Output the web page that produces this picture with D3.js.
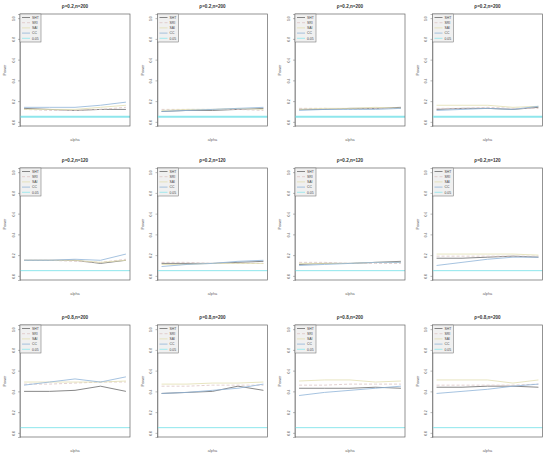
<!DOCTYPE html>
<html>
<head>
<meta charset="utf-8">
<script src="https://cdn.jsdelivr.net/npm/d3@7"></script>
<style>
  body { margin: 0; background: #fff; }
  text { font-family: "Liberation Sans", Arial, sans-serif; }
</style>
</head>
<body>
<script>
// alpha steps along the x axis (no tick labels shown in the original)
const alphas = [1, 2, 3, 4, 5];
const methods = ["SHT", "SRI", "SAI", "CC"];
const legendLabels = ["SHT", "SRI", "SAI", "CC", "0.05"];
const nominal = 0.05;
const yTicks = [0, 0.2, 0.4, 0.6, 0.8, 1.0];

const titles = [
  "\u03c1=0.2,n=200", "\u03c1=0.2,n=200", "\u03c1=0.2,n=200", "\u03c1=0.2,n=200",
  "\u03c1=0.2,n=120", "\u03c1=0.2,n=120", "\u03c1=0.2,n=120", "\u03c1=0.2,n=120",
  "\u03c1=0.8,n=200", "\u03c1=0.8,n=200", "\u03c1=0.8,n=200", "\u03c1=0.8,n=200"
];

// power per panel, one array per method (SHT, SRI, SAI, CC)
const shtPower = [
  [0.13, 0.12, 0.11, 0.12, 0.12], [0.10, 0.11, 0.11, 0.12, 0.13], [0.12, 0.12, 0.13, 0.13, 0.14], [0.12, 0.13, 0.13, 0.12, 0.14],
  [0.15, 0.15, 0.15, 0.12, 0.15], [0.12, 0.12, 0.12, 0.13, 0.14], [0.11, 0.12, 0.12, 0.13, 0.14], [0.17, 0.17, 0.18, 0.19, 0.18],
  [0.40, 0.40, 0.41, 0.45, 0.40], [0.38, 0.39, 0.40, 0.45, 0.41], [0.43, 0.43, 0.43, 0.44, 0.43], [0.44, 0.44, 0.45, 0.45, 0.44]
];
const sriPower = [
  [0.12, 0.11, 0.11, 0.12, 0.14], [0.12, 0.12, 0.12, 0.12, 0.11], [0.13, 0.13, 0.12, 0.13, 0.13], [0.13, 0.13, 0.14, 0.13, 0.13],
  [0.15, 0.15, 0.14, 0.13, 0.16], [0.13, 0.13, 0.12, 0.12, 0.12], [0.13, 0.13, 0.12, 0.12, 0.12], [0.19, 0.19, 0.19, 0.19, 0.19],
  [0.47, 0.47, 0.48, 0.49, 0.49], [0.45, 0.45, 0.46, 0.46, 0.46], [0.46, 0.46, 0.47, 0.47, 0.47], [0.46, 0.46, 0.46, 0.46, 0.47]
];
const saiPower = [
  [0.12, 0.12, 0.12, 0.14, 0.16], [0.11, 0.12, 0.12, 0.13, 0.12], [0.12, 0.13, 0.13, 0.14, 0.13], [0.16, 0.16, 0.16, 0.14, 0.15],
  [0.15, 0.15, 0.15, 0.13, 0.15], [0.11, 0.11, 0.12, 0.12, 0.12], [0.12, 0.12, 0.12, 0.13, 0.13], [0.21, 0.21, 0.21, 0.21, 0.20],
  [0.49, 0.49, 0.49, 0.49, 0.50], [0.47, 0.47, 0.48, 0.48, 0.49], [0.50, 0.51, 0.51, 0.49, 0.50], [0.51, 0.51, 0.51, 0.48, 0.51]
];
const ccPower = [
  [0.14, 0.14, 0.14, 0.16, 0.19], [0.10, 0.11, 0.12, 0.13, 0.14], [0.11, 0.12, 0.12, 0.12, 0.13], [0.11, 0.12, 0.13, 0.12, 0.15],
  [0.15, 0.15, 0.16, 0.15, 0.21], [0.09, 0.11, 0.12, 0.14, 0.15], [0.10, 0.11, 0.12, 0.13, 0.13], [0.10, 0.13, 0.16, 0.18, 0.18],
  [0.46, 0.49, 0.52, 0.49, 0.54], [0.38, 0.39, 0.41, 0.43, 0.47], [0.36, 0.39, 0.41, 0.43, 0.45], [0.38, 0.40, 0.42, 0.45, 0.47]
];
const seriesData = [shtPower, sriPower, saiPower, ccPower];

const colors = ["#6a6a6a", "#dcc4c4", "#e2deb0", "#8fb4d8", "#8ee6ec"];
const dashes = [null, "3,2", null, null, null];

const W = 550, H = 459;
const colW = 137.5;
const boxLeft = 20, boxW = 110, boxH = 112;
const rowBoxTop = [14, 168, 325];

const svg = d3.select("body").append("svg")
  .attr("width", W)
  .attr("height", H);

const x = d3.scaleLinear()
  .domain([alphas[0] - 0.16, alphas[alphas.length - 1] + 0.16])
  .range([0, boxW]);

const y = d3.scaleLinear()
  .domain([-0.04, 1.04])
  .range([boxH, 0]);

const line = d3.line()
  .x(function(d, i) { return x(alphas[i]); })
  .y(function(d) { return y(d); });

titles.forEach(function(title, p) {
  const row = Math.floor(p / 4), col = p % 4;
  const g = svg.append("g")
    .attr("transform", "translate(" + (col * colW + boxLeft) + "," + rowBoxTop[row] + ")");

  // title
  g.append("text")
    .attr("x", boxW / 2)
    .attr("y", -6)
    .attr("text-anchor", "middle")
    .attr("font-size", 4.6)
    .attr("font-weight", "bold")
    .attr("fill", "#333")
    .text(title);

  // y axis, R style (rotated labels)
  const ax = g.append("g")
    .call(d3.axisLeft(y).tickValues(yTicks).tickSize(2).tickPadding(2).tickFormat(d3.format(".1f")));
  ax.select(".domain").attr("stroke", "#777").attr("stroke-width", 0.5);
  ax.selectAll(".tick line").attr("stroke", "#777").attr("stroke-width", 0.5);
  ax.selectAll(".tick text")
    .attr("font-size", 3.4)
    .attr("fill", "#555")
    .attr("x", null)
    .attr("dy", null)
    .attr("text-anchor", "middle")
    .attr("transform", "translate(-5.5,0) rotate(-90)");

  g.append("text")
    .attr("transform", "translate(-14," + (boxH / 2) + ") rotate(-90)")
    .attr("text-anchor", "middle")
    .attr("font-size", 3.8)
    .attr("fill", "#555")
    .text("Power");

  g.append("text")
    .attr("x", boxW / 2)
    .attr("y", boxH + 15)
    .attr("text-anchor", "middle")
    .attr("font-size", 3.8)
    .attr("fill", "#666")
    .text("alpha");

  // nominal level line
  g.append("line")
    .attr("x1", 0).attr("x2", boxW)
    .attr("y1", y(nominal)).attr("y2", y(nominal))
    .attr("stroke", colors[4])
    .attr("stroke-width", row === 0 ? 2 : 1);

  // power curves
  seriesData.forEach(function(s, m) {
    g.append("path")
      .datum(s[p])
      .attr("d", line)
      .attr("fill", "none")
      .attr("stroke", colors[m])
      .attr("stroke-width", 0.8)
      .attr("stroke-dasharray", dashes[m]);
  });

  // plot box
  g.append("rect")
    .attr("width", boxW)
    .attr("height", boxH)
    .attr("fill", "none")
    .attr("stroke", "#666")
    .attr("stroke-width", 0.7);

  // legend
  const lg = g.append("g");
  lg.append("rect")
    .attr("width", 21)
    .attr("height", 28)
    .attr("fill", "#f0f0f0")
    .attr("stroke", "#666")
    .attr("stroke-width", 0.5);
  legendLabels.forEach(function(lab, k) {
    const ly = 3.5 + k * 5.2;
    lg.append("line")
      .attr("x1", 2).attr("x2", 10)
      .attr("y1", ly).attr("y2", ly)
      .attr("stroke", colors[k])
      .attr("stroke-width", 0.8)
      .attr("stroke-dasharray", dashes[k]);
    lg.append("text")
      .attr("x", 12)
      .attr("y", ly + 1.3)
      .attr("font-size", 3.4)
      .attr("fill", "#444")
      .text(lab);
  });
});
</script>
</body>
</html>
